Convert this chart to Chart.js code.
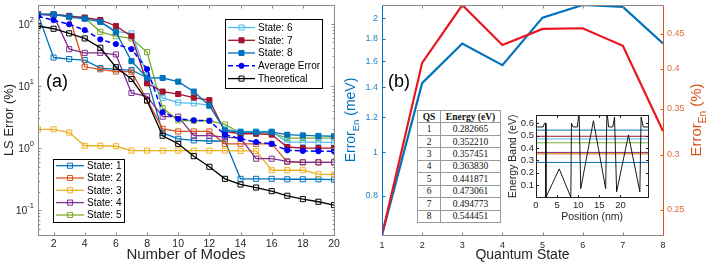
<!DOCTYPE html>
<html>
<head>
<meta charset="utf-8">
<script src="https://cdn.jsdelivr.net/npm/chart.js@4.4.1/dist/chart.umd.min.js"></script>
<style>
html,body{margin:0;padding:0;background:#fff}
#wrap{position:relative;width:708px;height:264px;overflow:hidden;font-family:"Liberation Sans",Arial,sans-serif}
#wrap canvas{position:absolute}
#qs{position:absolute;left:417px;top:110px;width:84px;height:113px;border-collapse:collapse;background:#fff;
  font:9.5px "Liberation Serif","Times New Roman",serif;color:#111;table-layout:fixed}
#qs td,#qs th{border:1px solid #9a9a9a;padding:0;text-align:center;line-height:10px}
#qs th{font-weight:bold}
</style>
</head>
<body>
<div id="wrap">
<canvas id="ca" width="360" height="264" style="left:0;top:0"></canvas>
<canvas id="cb" width="368" height="264" style="left:340px;top:0"></canvas>
<table id="qs"><colgroup><col style="width:23px"><col></colgroup></table>
<canvas id="cc" width="152" height="112" style="left:504px;top:112px"></canvas>
</div>
<script>
// ---- panel (a): LS error vs number of modes
const modes=[1,2,3,4,5,6,7,8,9,10,11,12,13,14,15,16,17,18,19,20];
const state1=[141,28.6,27,26,19.3,18.5,18,13.5,1.75,1.41,1.33,1.3,1.3,0.32,0.32,0.32,0.315,0.315,0.315,0.31];
const state2=[141,141,132,20.3,18.5,17,17,6,2.04,1.85,1.85,1.85,1.17,1.17,1.17,1.17,0.6,0.59,0.59,0.59];
const state3=[2.0,2.0,1.78,1.09,1.09,1.07,0.91,0.91,0.91,0.91,0.91,0.91,0.91,0.9,0.9,0.44,0.44,0.44,0.38,0.375];
const state4=[141,135,39,34,34,32,7.7,6.8,3.2,3.2,1.58,1.58,1.5,1.45,0.675,0.675,0.61,0.59,0.59,0.59];
const state5=[141,141,132,125,74,63,58,35,4.4,2.8,2.75,2.75,2.4,1.75,1.75,1.75,1.45,1.45,1.45,1.45];
const state6=[141,141,135,125,110,75,70,15,6.4,5.4,5.25,4.9,2.0,1.85,1.85,1.85,1.25,1.25,1.25,1.22];
const state7=[141,141,132,125,115,92,63,11,8.1,7.4,6.5,5.9,1.85,1.7,1.7,1.65,1.04,1.0,1.0,1.0];
const state8=[141,141,128,120,107,73,25,13.5,13.4,11.7,8.1,4.8,1.92,1.8,1.8,1.8,1.64,1.6,1.57,1.55];
const avgErr=[132,114,98,79,56,47,39,18.6,3.77,2.95,2.8,2.75,1.64,1.41,1.25,1.17,0.92,0.9,0.89,0.89];
const theory=[92,83,70,58,41,20,12.9,5.8,1.58,1.17,0.74,0.5,0.32,0.26,0.232,0.203,0.171,0.151,0.137,0.121];
const xTicksA=[2,4,6,8,10,12,14,16,18,20];
const yDecadesA=[0.1,1,10,100];
const yExpA=['-1','0','1','2'];

// ---- panel (b): error per quantum state
const qs=[1,2,3,4,5,6,7,8];
const errMeV=[0.653,1.43,1.754,1.569,2.005,2.14,2.12,1.754];
const errPct=[0.2296,0.408,0.495,0.433,0.457,0.458,0.432,0.325];
const leftTicksB=[0.8,1,1.2,1.4,1.6,1.8,2];
const rightTicksB=[0.25,0.3,0.35,0.4,0.45];
const energies=[0.282665,0.352210,0.357451,0.363830,0.441871,0.473061,0.494773,0.544451];

// ---- inset: band profile
const bandX=[0,1.7,2.0,2.3,2.35,5.5,8.25,8.4,8.8,9.8,10.2,10.6,13.6,16.5,16.8,17.2,18.2,18.6,19.1,21.9,24.6,24.9,25.4,26.6];
const bandY=[0.57,0.57,0.6,0.6,0.0,0.23,0.0,0.6,0.57,0.57,0.7,0.07,0.62,0.07,0.7,0.57,0.57,0.65,0.045,0.505,0.045,0.65,0.57,0.57];
const posTicks=[0,5,10,15,20];
const bandTicks=[0.1,0.2,0.3,0.4,0.5,0.6];

const COL=['#0072BD','#D95319','#EDB120','#7E2F8E','#77AC30','#4DBEEE','#A2142F','#0072BD'];
const FONT='"Liberation Sans", Arial, sans-serif';
Chart.defaults.font.family=FONT;
const AX='#262626';
const NOGRID={display:false,drawTicks:false};

function xy(xs,ys){return xs.map((x,i)=>({x:x,y:ys[i]}));}
function setTicks(list){return s=>{s.ticks=list.map(v=>({value:v}));};}
function fix(w,h){return s=>{if(w!=null)s.width=w;if(h!=null)s.height=h;s.paddingTop=0;s.paddingBottom=0;s.paddingLeft=0;s.paddingRight=0;};}
function hl(ctx,x0,y0,x1,y1){ctx.beginPath();ctx.moveTo(x0,y0);ctx.lineTo(x1,y1);ctx.stroke();}
function marker(ctx,d,x,y){
  ctx.setLineDash([]);ctx.lineWidth=1;ctx.strokeStyle=d.borderColor;ctx.fillStyle=d.pointBackgroundColor;
  if(d.pointStyle==='circle'){ctx.beginPath();ctx.arc(x,y,d.pointRadius,0,Math.PI*2);ctx.fill();ctx.stroke();}
  else{const s=d.pointRadius*Math.SQRT1_2;ctx.beginPath();ctx.rect(x-s,y-s,2*s,2*s);ctx.fill();ctx.stroke();}
}
function legendBox(ctx,items,bx,by,bw,bh,rowY,l0,l1,tx){
  ctx.save();ctx.fillStyle='#fff';ctx.fillRect(bx,by,bw,bh);ctx.strokeStyle='#000';ctx.lineWidth=1;ctx.strokeRect(bx+.5,by+.5,bw,bh);
  ctx.font='10px '+FONT;ctx.textBaseline='middle';ctx.textAlign='left';
  items.forEach((d,i)=>{const y=rowY[i];
    ctx.strokeStyle=d.borderColor;ctx.lineWidth=d.borderWidth;ctx.setLineDash(d.borderDash||[]);hl(ctx,l0,y,l1,y);
    marker(ctx,d,(l0+l1)/2,y);ctx.fillStyle='#000';ctx.fillText(d.label,tx,y+0.5);});
  ctx.restore();
}

// ---------- chart (a)
const dsA=[state1,state2,state3,state4,state5,state6,state7,state8].map((v,i)=>({
  label:'State: '+(i+1),data:xy(modes,v),borderColor:COL[i],backgroundColor:COL[i],borderWidth:1.3,
  pointStyle:'rect',pointRadius:3.6,pointBorderWidth:1,pointBorderColor:COL[i],
  pointBackgroundColor:i>=6?COL[i]:'rgba(0,0,0,0)',order:12-i}));
dsA.push({label:'Average Error',data:xy(modes,avgErr),borderColor:'#0000FF',backgroundColor:'#0000FF',borderWidth:1.5,borderDash:[5,3],
  pointStyle:'circle',pointRadius:2.6,pointBorderWidth:1,pointBorderColor:'#0000FF',pointBackgroundColor:'#0000FF',order:2});
dsA.push({label:'Theoretical',data:xy(modes,theory),borderColor:'#000',backgroundColor:'#000',borderWidth:1.3,
  pointStyle:'rect',pointRadius:3.6,pointBorderWidth:1,pointBorderColor:'#000',pointBackgroundColor:'rgba(0,0,0,0)',order:1});

const decorA={id:'decorA',afterDatasetsDraw(c){
  const ctx=c.ctx,a=c.chartArea,sx=c.scales.x,sy=c.scales.y;
  ctx.save();ctx.strokeStyle='#8a8a8a';ctx.lineWidth=1;ctx.setLineDash([]);
  const L=Math.round(a.left)+.5,R=Math.round(a.right)+.5,T=Math.round(a.top)+.5,B=Math.round(a.bottom)+.5;
  ctx.strokeRect(L,T,R-L,B-T);
  xTicksA.forEach(v=>{const x=Math.round(sx.getPixelForValue(v))+.5;hl(ctx,x,B,x,B-3);hl(ctx,x,T,x,T+3);});
  for(let e=-2;e<=2;e++)for(let m=1;m<10;m++){const v=m*Math.pow(10,e);if(v<sy.min||v>sy.max)continue;
    const y=Math.round(sy.getPixelForValue(v))+.5,len=m===1?3:1.8;hl(ctx,L,y,L+len,y);hl(ctx,R,y,R-len,y);}
  ctx.fillStyle=AX;ctx.textBaseline='middle';
  yDecadesA.forEach((v,i)=>{const y=sy.getPixelForValue(v);ctx.font='7.5px '+FONT;ctx.textAlign='right';
    const ew=ctx.measureText(yExpA[i]).width;ctx.fillText(yExpA[i],a.left-4,y-4);
    ctx.font='10.5px '+FONT;ctx.fillText('10',a.left-4-ew,y+1);});
  ctx.font='18px '+FONT;ctx.textAlign='center';ctx.fillStyle='#000';ctx.fillText('(a)',57,82);
  ctx.restore();
  const ds=c.data.datasets;
  legendBox(ctx,[ds[5],ds[6],ds[7],ds[8],ds[9]],225,19,97,69,[27.5,40.3,53,65.8,78.6],228,255,258);
  legendBox(ctx,[ds[0],ds[1],ds[2],ds[3],ds[4]],53,159,71,63,[165.7,178,190.3,202.6,215],56,84,87);
}};

new Chart(document.getElementById('ca'),{type:'line',data:{datasets:dsA},plugins:[decorA],
  options:{responsive:false,animation:false,events:[],
    layout:{padding:{left:0,right:26,top:5,bottom:0}},
    plugins:{legend:{display:false},tooltip:{enabled:false}},
    elements:{line:{tension:0}},
    scales:{
      x:{type:'linear',min:1,max:20,afterBuildTicks:setTicks(xTicksA),afterFit:fix(null,29),
        grid:NOGRID,border:{display:false},
        ticks:{color:AX,font:{size:10.5},padding:3,maxRotation:0,autoSkip:false},
        title:{display:true,text:'Number of Modes',color:AX,font:{size:15},padding:{top:0,bottom:0}}},
      y:{type:'logarithmic',min:0.04,max:200,afterFit:fix(38,null),
        grid:NOGRID,border:{display:false},ticks:{display:false},
        title:{display:true,text:'LS Error (%)',color:AX,font:{size:13},padding:{top:2,bottom:0}}}
    }}});

// ---------- chart (b)
function vTitle(ctx,x,yc,main,sub,tail,size,subSize,color){
  ctx.save();ctx.translate(x,yc);ctx.rotate(-Math.PI/2);ctx.fillStyle=color;ctx.textBaseline='alphabetic';ctx.textAlign='left';
  const f1=size+'px '+FONT,f2=subSize+'px '+FONT;
  ctx.font=f1;const w1=ctx.measureText(main).width,w3=ctx.measureText(tail).width;
  ctx.font=f2;const w2=ctx.measureText(sub).width;
  const s=-(w1+w2+w3)/2;
  ctx.font=f1;ctx.fillText(main,s,0);ctx.font=f2;ctx.fillText(sub,s+w1,size*0.3);ctx.font=f1;ctx.fillText(tail,s+w1+w2,0);
  ctx.restore();
}
const BLUE='#0072BD',ORANGE='#D95319';
const decorB={id:'decorB',afterDatasetsDraw(c){
  const ctx=c.ctx,a=c.chartArea,sx=c.scales.x,sl=c.scales.y,sr=c.scales.y1;
  const L=Math.round(a.left)+.5,R=Math.round(a.right)+.5,T=Math.round(a.top)+.5,B=Math.round(a.bottom)+.5;
  ctx.save();ctx.lineWidth=1;ctx.setLineDash([]);
  ctx.strokeStyle='#8a8a8a';hl(ctx,L,T,R,T);hl(ctx,L,B,R,B);
  qs.forEach(v=>{const x=Math.round(sx.getPixelForValue(v))+.5;hl(ctx,x,B,x,B-3);hl(ctx,x,T,x,T+3);});
  ctx.strokeStyle=BLUE;hl(ctx,L,T,L,B);
  leftTicksB.forEach(v=>{const y=Math.round(sl.getPixelForValue(v))+.5;hl(ctx,L,y,L+3,y);});
  ctx.strokeStyle=ORANGE;hl(ctx,R,T,R,B);
  rightTicksB.forEach(v=>{const y=Math.round(sr.getPixelForValue(v))+.5;hl(ctx,R,y,R-3,y);});
  ctx.font='18px '+FONT;ctx.textAlign='center';ctx.textBaseline='middle';ctx.fillStyle='#000';ctx.fillText('(b)',59,82);
  ctx.restore();
  vTitle(ctx,15,120,'Error','En',' (meV)',14,9.5,BLUE);
  vTitle(ctx,361,120,'Error','En',' (%)',15,10,ORANGE);
}};

new Chart(document.getElementById('cb'),{type:'line',
  data:{datasets:[
    {label:'Error (%)',data:xy(qs,errPct),yAxisID:'y1',borderColor:'#E8161E',borderWidth:2.2,pointRadius:0,order:1},
    {label:'Error (meV)',data:xy(qs,errMeV),yAxisID:'y',borderColor:BLUE,borderWidth:2.2,pointRadius:0,order:2}]},
  plugins:[decorB],
  options:{responsive:false,animation:false,events:[],
    layout:{padding:{left:0,right:0,top:5,bottom:0}},
    plugins:{legend:{display:false},tooltip:{enabled:false}},
    scales:{
      x:{type:'linear',min:1,max:8,afterBuildTicks:setTicks(qs),afterFit:fix(null,29),
        grid:NOGRID,border:{display:false},
        ticks:{color:AX,font:{size:9},padding:5,maxRotation:0,autoSkip:false},
        title:{display:true,text:'Quantum State',color:AX,font:{size:14},padding:{top:0,bottom:0}}},
      y:{type:'logarithmic',position:'left',min:errMeV[0],max:2.14,afterBuildTicks:setTicks(leftTicksB),afterFit:fix(42,null),
        grid:NOGRID,border:{display:false},
        ticks:{color:'#2585c4',font:{size:9},padding:4,callback:v=>String(v)}},
      y1:{type:'logarithmic',position:'right',min:errPct[0],max:0.495,afterBuildTicks:setTicks(rightTicksB),afterFit:fix(45,null),
        grid:NOGRID,border:{display:false},
        ticks:{color:'#dc6a3c',font:{size:9},padding:4,callback:v=>String(v)}}
    }}});

// ---------- energy table
const tbl=document.getElementById('qs');
let rows='<tr><th>QS</th><th>Energy (eV)</th></tr>';
energies.forEach((e,i)=>{rows+='<tr><td>'+(i+1)+'</td><td>'+e.toFixed(6)+'</td></tr>';});
tbl.insertAdjacentHTML('beforeend',rows);

// ---------- inset band diagram
const dsC=energies.map((e,i)=>({data:[{x:0,y:e},{x:26.6,y:e}],borderColor:COL[i],borderWidth:1,pointRadius:0,order:20-i}));
dsC.push({data:xy(bandX,bandY),borderColor:'#000',borderWidth:0.9,pointRadius:0,order:1});
const decorC={id:'decorC',
  beforeDatasetsDraw(c){const a=c.chartArea;c.ctx.save();c.ctx.fillStyle='#fff';c.ctx.fillRect(a.left,a.top,a.right-a.left,a.bottom-a.top);c.ctx.restore();},
  afterDatasetsDraw(c){const ctx=c.ctx,a=c.chartArea,sx=c.scales.x,sy=c.scales.y;
    const L=Math.round(a.left)+.5,R=Math.round(a.right)+.5,T=Math.round(a.top)+.5,B=Math.round(a.bottom)+.5;
    ctx.save();ctx.strokeStyle='#222';ctx.lineWidth=1;ctx.strokeRect(L,T,R-L,B-T);
    posTicks.forEach(v=>{const x=Math.round(sx.getPixelForValue(v))+.5;hl(ctx,x,B,x,B-2.5);hl(ctx,x,T,x,T+2.5);});
    bandTicks.forEach(v=>{const y=Math.round(sy.getPixelForValue(v))+.5;hl(ctx,L,y,L+2.5,y);hl(ctx,R,y,R-2.5,y);});
    ctx.restore();}};
new Chart(document.getElementById('cc'),{type:'line',data:{datasets:dsC},plugins:[decorC],
  options:{responsive:false,animation:false,events:[],
    layout:{padding:{left:0,right:7.7,top:3,bottom:0}},
    plugins:{legend:{display:false},tooltip:{enabled:false}},
    scales:{
      x:{type:'linear',min:0,max:26.6,afterBuildTicks:setTicks(posTicks),afterFit:fix(null,26.7),
        grid:NOGRID,border:{display:false},
        ticks:{color:AX,font:{size:9.5},padding:2,maxRotation:0,autoSkip:false},
        title:{display:true,text:'Position (nm)',color:AX,font:{size:10.5},padding:{top:0,bottom:0.7}}},
      y:{type:'linear',min:0,max:0.667,afterBuildTicks:setTicks(bandTicks),afterFit:fix(32,null),
        grid:NOGRID,border:{display:false},
        ticks:{color:AX,font:{size:9.5},padding:2,callback:v=>String(v)},
        title:{display:true,text:'Energy Band (eV)',color:AX,font:{size:10.5},padding:{top:3,bottom:0}}}
    }}});
</script>
</body>
</html>
